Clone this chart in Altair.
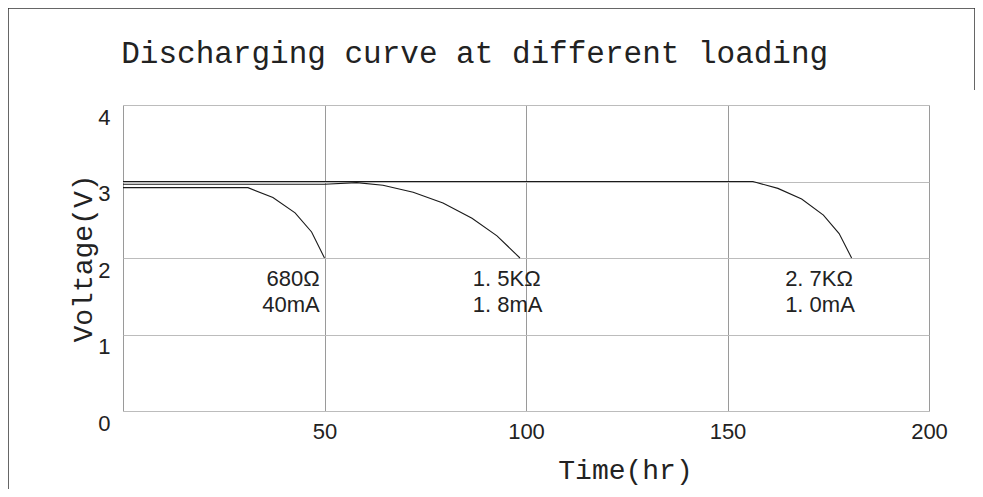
import altair as alt
import pandas as pd

# ---- data ----
s680_hr = [0, 31.0, 37.2, 42.7, 46.8, 50.0]
s680_v = [2.92, 2.92, 2.79, 2.59, 2.34, 2.0]

s15k_hr = [0, 50.0, 58.0, 64.5, 72.0, 79.4, 86.6, 92.8, 98.5]
s15k_v = [2.965, 2.965, 2.985, 2.95, 2.86, 2.72, 2.52, 2.29, 2.0]

s27k_hr = [0, 156.3, 162.5, 168.4, 173.8, 177.7, 180.8]
s27k_v = [3.0, 3.0, 2.91, 2.77, 2.56, 2.32, 2.0]

label_text = ["680Ω", "40mA", "1. 5KΩ", "1. 8mA", "2. 7KΩ", "1. 0mA"]
label_hr = [48.8, 48.8, 86.8, 86.8, 164.3, 164.3]
label_v = [1.72, 1.38, 1.72, 1.38, 1.72, 1.38]
label_align = ["right", "right", "left", "left", "left", "left"]

x_ticks = [0, 50, 100, 150, 200]
y_ticks = [0, 1, 2, 3, 4]

rows = []
for name, hs, vs in [("680", s680_hr, s680_v), ("1.5K", s15k_hr, s15k_v), ("2.7K", s27k_hr, s27k_v)]:
    for i, (h, v) in enumerate(zip(hs, vs)):
        rows.append({"series": name, "hr": h, "v": v, "idx": i})
df = pd.DataFrame(rows)

lab = pd.DataFrame({"text": label_text, "hr": label_hr, "v": label_v, "align": label_align})

x_scale = alt.Scale(domain=[0, 200], nice=False, zero=False)
y_scale = alt.Scale(domain=[0, 4], nice=False)

x_axis = alt.Axis(
    values=x_ticks, grid=True, gridColor="#9a9a9a", gridWidth=1, domain=False, ticks=False,
    labelExpr="datum.value == 0 ? '' : datum.label",
    labelFont="Liberation Sans", labelFontSize=22, labelColor="#222", labelBaseline="top",
    labelPadding=10, labelFlush=False,
    title="Time(hr)", titleFont="Liberation Mono", titleFontSize=28, titleFontWeight="normal",
    titleColor="#222", titleX=502, titleY=59, titleAlign="center", titleBaseline="middle",
)
y_axis = alt.Axis(
    values=y_ticks, grid=True, gridColor="#bcbcbc", gridWidth=1, domain=False, ticks=False,
    format="d",
    labelFont="Liberation Sans", labelFontSize=22, labelColor="#222", labelBaseline="top",
    labelPadding=13, labelOffset=2, labelFlush=False,
    title="Voltage(V)", titleFont="Liberation Mono", titleFontSize=28, titleFontWeight="normal",
    titleColor="#222", titleX=-40, titleY=153, titleAlign="center", titleBaseline="middle",
)

lines = alt.Chart(df).mark_line(color="#1a1a1a", strokeWidth=1.1).encode(
    x=alt.X("hr:Q", scale=x_scale, axis=x_axis),
    y=alt.Y("v:Q", scale=y_scale, axis=y_axis),
    detail="series:N",
    order="idx:Q",
)

texts_r = alt.Chart(lab[lab["align"] == "right"]).mark_text(
    align="right", baseline="middle", font="Liberation Sans", fontSize=22, color="#222"
).encode(x=alt.X("hr:Q", scale=x_scale), y=alt.Y("v:Q", scale=y_scale), text="text:N")

texts_l = alt.Chart(lab[lab["align"] == "left"]).mark_text(
    align="left", baseline="middle", font="Liberation Sans", fontSize=22, color="#222"
).encode(x=alt.X("hr:Q", scale=x_scale), y=alt.Y("v:Q", scale=y_scale), text="text:N")

one = alt.Data(values=[{}])
frame_top = alt.Chart(one).mark_rule(color="#333", strokeWidth=1.5).encode(
    x=alt.value(-115), x2=alt.value(852), y=alt.value(-97))
frame_left = alt.Chart(one).mark_rule(color="#333", strokeWidth=1.5).encode(
    x=alt.value(-115), y=alt.value(-97), y2=alt.value(390))
frame_right = alt.Chart(one).mark_rule(color="#333", strokeWidth=1.5).encode(
    x=alt.value(852), y=alt.value(-97), y2=alt.value(-15))

chart = alt.layer(lines, texts_r, texts_l, frame_top, frame_left, frame_right).properties(
    width=806, height=306,
    title=alt.TitleParams(
        "Discharging curve at different loading", anchor="start", font="Liberation Mono",
        fontSize=31, fontWeight="normal", color="#222", baseline="alphabetic", offset=0,
        dy=87, dx=114,
    ),
    autosize=alt.AutoSizeParams(type="none"),
    padding={"left": 115, "top": 97, "right": 46, "bottom": 78},
).configure_view(stroke=None).configure(background="white")

chart.save("out.html", embed_options={"renderer": "svg", "actions": False})
